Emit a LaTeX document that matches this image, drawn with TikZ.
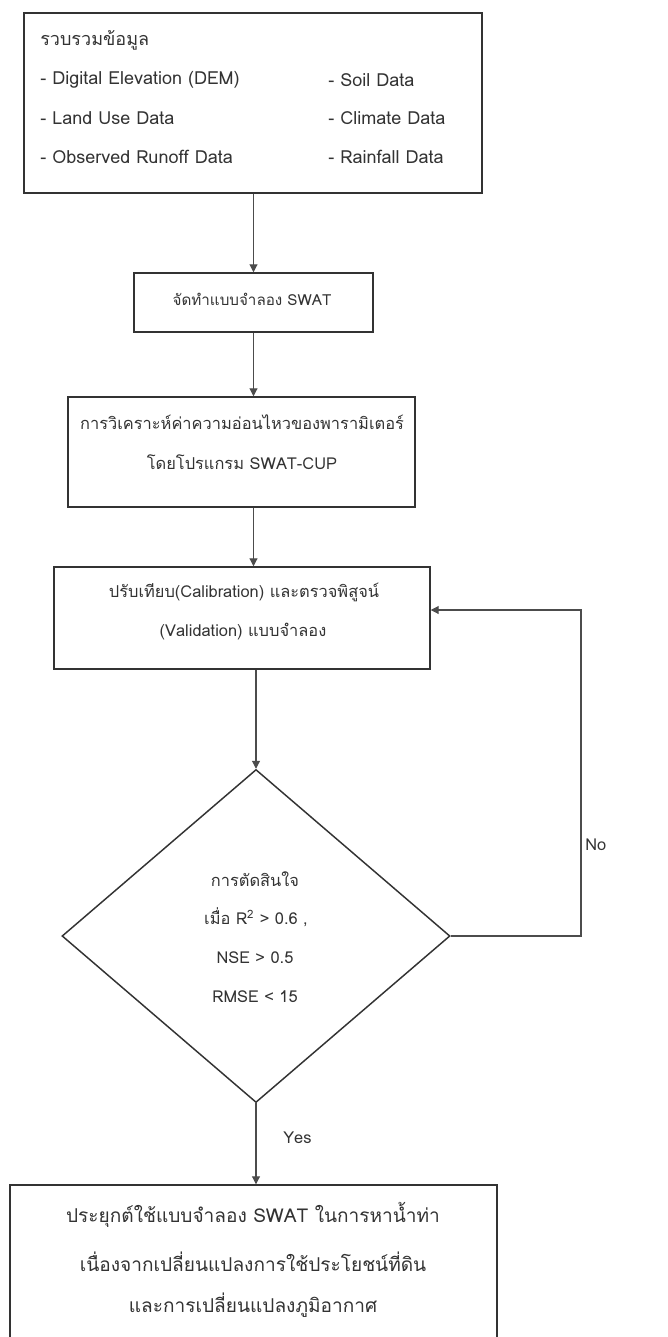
\documentclass[tikz,border=0pt]{standalone}
\usepackage{fontspec}
\setmainfont[Script=Thai]{Loma}
\usetikzlibrary{arrows.meta,shapes.geometric}
\begin{document}
\begin{tikzpicture}[x=0.75pt,y=-0.75pt,
  box/.style={draw=black!80,line width=1.1pt,rectangle,inner sep=0pt},
  txt/.style={text=black!80,inner sep=0pt},
  ctxt/.style={txt,anchor=center,align=center},
  ltxt/.style={txt,anchor=west},
  fa/.style={font=\fontsize{13.5}{15}\selectfont},
  fb/.style={font=\fontsize{12.3}{14}\selectfont},
  fs/.style={font=\fontsize{11.4}{13}\selectfont},
  fc/.style={font=\fontsize{14.3}{16}\selectfont},
  conn/.style={draw=black!70,line width=0.8pt,-{Triangle[length=6pt,width=6pt]}}]
\useasboundingbox (0,0) rectangle (667,1337);
\fill[white] (0,0) rectangle (667,1337);
% boxes
\node[box,minimum width=343.5pt,minimum height=135pt] (data) at (253,103) {};
\node[ltxt,fa] (t0) at (40,40) {รวบรวมข้อมูล};
\node[ltxt,fa] (t1) at (40,80) {- Digital Elevation (DEM)};
\node[ltxt,fa] (t2) at (40,118) {- Land Use Data};
\node[ltxt,fa] (t3) at (40,157) {- Observed Runoff Data};
\node[ltxt,fa] (t4) at (328,80) {- Soil Data};
\node[ltxt,fa] (t5) at (328,118) {- Climate Data};
\node[ltxt,fa] (t6) at (328,157) {- Rainfall Data};

\node[box,minimum width=179.25pt,minimum height=44.25pt] (swat) at (253.5,302.5) {};
\node[ctxt,fs] (swatt) at (252,299) {จัดทำแบบจำลอง SWAT};

\node[box,minimum width=260.25pt,minimum height=82.5pt] (sens) at (241.5,452) {};
\node[ctxt,fb] (senst1) at (242,422) {การวิเคราะห์ค่าความอ่อนไหวของพารามิเตอร์};
\node[ctxt,fb] (senst2) at (242,462) {โดยโปรแกรม SWAT-CUP};

\node[box,minimum width=282pt,minimum height=76.5pt] (cal) at (242,618) {};
\node[ctxt,fb] (calt1) at (244,592) {ปรับเทียบ(Calibration) และตรวจพิสูจน์};
\node[ctxt,fb] (calt2) at (243,632) {(Validation) แบบจำลอง};

\node[draw=black!80,line width=1.1pt,diamond,minimum width=291pt,minimum height=249.75pt,inner sep=0pt] (dec) at (256,936) {};
\node[ctxt,fb] (dect1) at (255,879) {การตัดสินใจ};
\node[ctxt,fb] (dect2) at (256,917) {เมื่อ R\textsuperscript{2} > 0.6 ,};
\node[ctxt,fb] (dect3) at (255,958) {NSE > 0.5};
\node[ctxt,fb] (dect4) at (255,997) {RMSE < 15};

\node[box,minimum width=365.25pt,minimum height=120pt] (app) at (253.5,1265) {};
\node[ctxt,fc] (appt1) at (253,1215) {ประยุกต์ใช้แบบจำลอง SWAT ในการหาน้ำท่า};
\node[ctxt,fc] (appt2) at (253,1262) {เนื่องจากเปลี่ยนแปลงการใช้ประโยชน์ที่ดิน};
\node[ctxt,fc] (appt3) at (253,1305) {และการเปลี่ยนแปลงภูมิอากาศ};

% connectors
\draw[conn] (data.south -| swat.north) -- (swat.north);
\draw[conn] (swat.south) -- (swat.south |- sens.north);
\draw[conn] (swat.south |- sens.south) -- (swat.south |- cal.north);
\draw[conn] (dec.north |- cal.south) -- (dec.north);
\coordinate (fbr) at (581,936);
\coordinate (fbt) at (581,610);
\draw[conn] (dec.east) -- (fbr) -- (fbt) -- (fbt -| cal.east);
\draw[conn] (dec.south) -- (dec.south |- app.north);
\node[ltxt,fb] (yes) at (283,1138) {Yes};
\node[ltxt,fb] (no) at (585,845) {No};
\end{tikzpicture}
\end{document}
